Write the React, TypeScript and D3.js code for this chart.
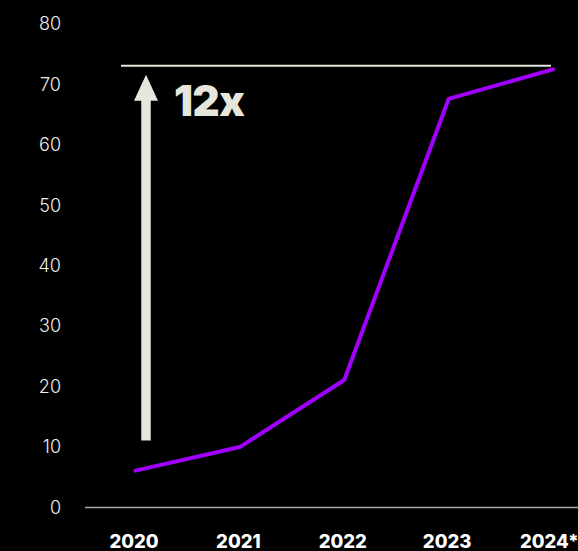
import React from "react";
import * as d3 from "d3";

const years = ["2020", "2021", "2022", "2023", "2024*"];
const values = [6.1, 10.0, 21.1, 67.6, 72.5];
const yTicks = [0, 10, 20, 30, 40, 50, 60, 70, 80];
const refValue = 73.1;
const arrowFrom = 11.1;
const annotation = "12x";

const W = 578;
const H = 551;

export default function App() {
  const x = d3.scalePoint<string>().domain(years).range([135.5, 553]);
  const y = d3.scaleLinear().domain([0, 80]).range([507.5, 24]);
  const line = d3
    .line<number>()
    .x((_, i) => x(years[i]) as number)
    .y((d) => y(d));

  const ax = 146;
  const tipY = y(refValue) + 9;
  const headH = 26;
  const headW = 24;
  const shaftW = 9.5;
  const bottomY = y(arrowFrom);
  const arrowPath = `M${ax},${tipY} L${ax + headW / 2},${tipY + headH} L${ax + shaftW / 2},${tipY + headH} L${ax + shaftW / 2},${bottomY} L${ax - shaftW / 2},${bottomY} L${ax - shaftW / 2},${tipY + headH} L${ax - headW / 2},${tipY + headH} Z`;

  return (
    <svg
      width={W}
      height={H}
      style={{ position: "absolute", left: 0, top: 0, background: "#000" }}
    >
      <rect x={0} y={0} width={W} height={H} fill="#000" />
      {yTicks.map((t) => (
        <text
          key={t}
          x={61}
          y={y(t)}
          dy="0.35em"
          textAnchor="end"
          fill="#eeeeee"
          fontFamily="Inter, 'Noto Sans', sans-serif"
          fontWeight={300}
          fontSize={18}
        >
          {t}
        </text>
      ))}
      <line x1={85} x2={W} y1={y(0)} y2={y(0)} stroke="#a8a8a8" strokeWidth={1.5} />
      {years.map((yr) => (
        <text
          key={yr}
          x={yr.endsWith("*") ? 520 : (x(yr) as number) - 1.5}
          y={548}
          textAnchor={yr.endsWith("*") ? "start" : "middle"}
          fill="#ffffff"
          fontFamily="Inter, 'Noto Sans', sans-serif"
          fontWeight={800}
          fontSize={18.5}
        >
          {yr}
        </text>
      ))}
      <line
        x1={121}
        x2={551}
        y1={y(refValue)}
        y2={y(refValue)}
        stroke="#e6e6dc"
        strokeWidth={2}
      />
      <path d={arrowPath} fill="#e6e6dc" />
      <text
        x={174}
        y={116}
        fill="#e6e6dc"
        fontFamily="Inter, 'Liberation Sans', Arial, sans-serif"
        fontWeight={900}
        fontSize={42}
        letterSpacing={-0.5}
      >
        {annotation}
      </text>
      <path
        d={line(values) || ""}
        fill="none"
        stroke="#a100ff"
        strokeWidth={4}
        strokeLinejoin="round"
        strokeLinecap="round"
      />
    </svg>
  );
}
